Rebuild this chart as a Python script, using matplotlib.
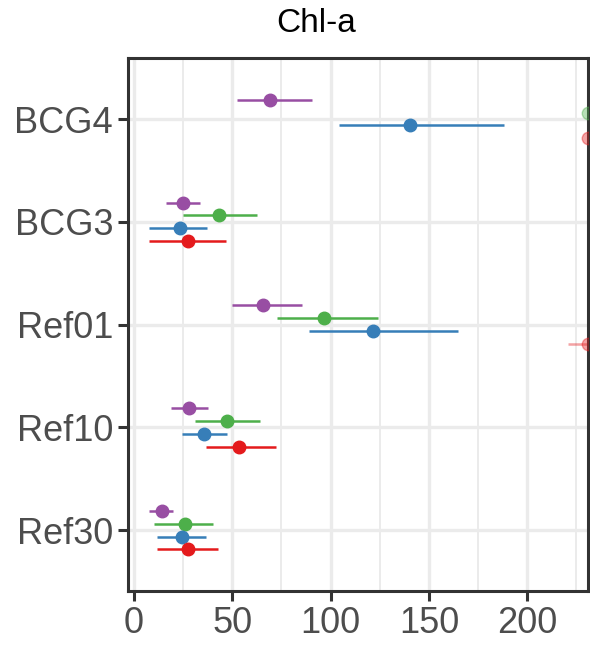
import matplotlib
matplotlib.use("Agg")
import matplotlib.pyplot as plt
import numpy as np

plt.rcParams['font.family'] = ['Liberation Sans', 'DejaVu Sans']

title = "Chl-a"
sites = ["Ref30", "Ref10", "Ref01", "BCG3", "BCG4"]  # bottom to top
groups = ["purple", "green", "blue", "red"]            # top to bottom within a site
group_colors = ["#984EA3", "#4DAF4A", "#377EB8", "#E41A1C"]

# estimates (rows = sites bottom->top, cols = groups)
est = {
    "purple": [14.1, 28.1, 65.8, 24.7, 69.3],
    "green":  [25.8, 47.1, 96.6, 43.2, 250.0],
    "blue":   [24.6, 35.4, 121.7, 23.2, 140.3],
    "red":    [27.6, 53.5, 260.0, 27.6, 280.0],
}
lower = {
    "purple": [7.8, 18.8, 49.8, 16.1, 52.2],
    "green":  [10.2, 31.2, 72.9, 24.9, 240.0],
    "blue":   [11.7, 24.2, 89.0, 7.8, 104.0],
    "red":    [11.5, 36.6, 220.5, 7.8, 270.0],
}
upper = {
    "purple": [20.0, 37.5, 85.2, 33.4, 90.7],
    "green":  [40.2, 64.2, 124.2, 62.7, 260.0],
    "blue":   [36.8, 47.1, 165.0, 37.3, 188.0],
    "red":    [42.7, 72.0, 300.0, 46.6, 290.0],
}
x_ticks = [0, 50, 100, 150, 200]
x_limits = (-2.9, 231.0)

fig = plt.figure(figsize=(5.9, 6.49), dpi=100)
ax = fig.add_axes([0.2175, 0.0898, 0.997 - 0.2175, 0.910 - 0.0898])

ax.set_xlim(*x_limits)
ax.set_ylim(0.41, 5.59)

# grid
for v in np.arange(25, 231, 50):
    ax.axvline(v, color="#EBEBEB", lw=1.4, zorder=0)
for v in x_ticks:
    ax.axvline(v, color="#EBEBEB", lw=2.4, zorder=0)
for i in range(len(sites)):
    ax.axhline(i + 1, color="#EBEBEB", lw=2.4, zorder=0)

offsets = [0.1875, 0.0625, -0.0625, -0.1875]
xmax = x_limits[1]
for g, col, off in zip(groups, group_colors, offsets):
    e = np.array(est[g]); lo = np.array(lower[g]); hi = np.array(upper[g])
    y = np.arange(1, len(sites) + 1) + off
    inside = e <= xmax
    for k in range(len(sites)):
        a = 1.0 if inside[k] else 0.4
        xe = min(e[k], xmax)
        ax.plot([min(lo[k], xmax), min(hi[k], xmax)], [y[k], y[k]], color=col,
                lw=1.8, alpha=a, solid_capstyle='butt', zorder=2)
        ax.plot([xe], [y[k]], marker='o', ms=9, color=col, mec=col,
                alpha=a, zorder=3, clip_on=True)

ax.set_xticks(x_ticks)
ax.set_xticklabels([str(t) for t in x_ticks])
ax.set_yticks(np.arange(1, len(sites) + 1))
ax.set_yticklabels(sites)
ax.tick_params(axis='both', labelsize=26, colors="#333333", labelcolor="#4D4D4D",
               length=7, width=2.2, pad=4)
for s in ax.spines.values():
    s.set_color("#333333")
    s.set_linewidth(2.2)

fig.text(316 / 590, 1 - 24 / 649, title, ha='center', va='center', fontsize=24,
         color='black')

fig.savefig("out.png", dpi=100)
